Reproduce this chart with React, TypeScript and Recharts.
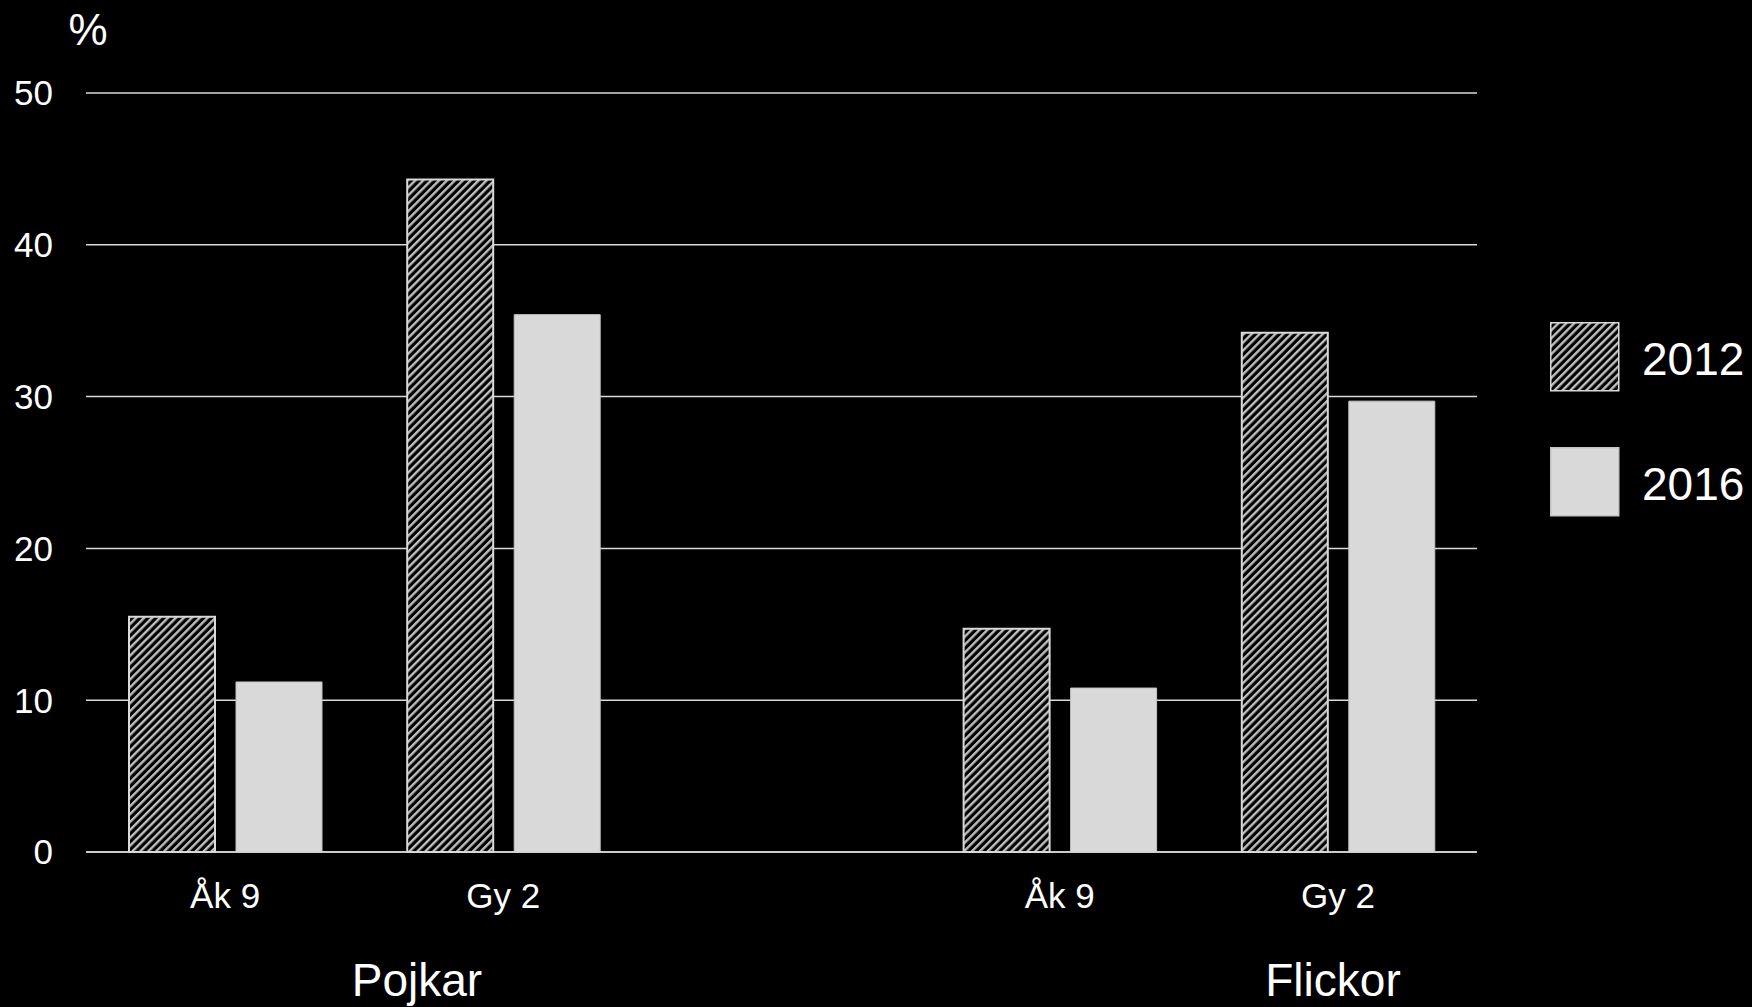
import React from 'react';
import { BarChart, Bar, XAxis, YAxis, CartesianGrid, Legend } from 'recharts';

const categories = ['Åk 9', 'Gy 2', '', 'Åk 9', 'Gy 2'];
const values2012 = [15.5, 44.3, null, 14.7, 34.2];
const values2016 = [11.2, 35.4, null, 10.8, 29.7];
const yTicks = [0, 10, 20, 30, 40, 50];
const seriesNames = ['2012', '2016'];
const groupLabels = [
  { text: 'Pojkar', x: 417 },
  { text: 'Flickor', x: 1333 },
];

const data = categories.map((c, i) => ({
  cat: c,
  v2012: values2012[i],
  v2016: values2016[i],
}));

const FONT = '"Liberation Sans", Arial, sans-serif';
const LIGHT = '#d9d9d9';

const HatchDef = ({ id }: { id: string }) => (
  <defs>
    <pattern id={id} patternUnits="userSpaceOnUse" width="5.6" height="5.6" patternTransform="rotate(45)">
      <rect x="0" y="0" width="5.6" height="5.6" fill="#000" />
      <rect x="0" y="0" width="2.4" height="5.6" fill="#c0c0c0" />
    </pattern>
  </defs>
);

const LegendContent = (props: any) => {
  const payload = props.payload || [];
  return (
    <svg width={220} height={200} style={{ display: 'block', overflow: 'visible' }}>
      <HatchDef id="hatchLegend" />
      {payload.map((p: any, i: number) => (
        <g key={i}>
          <rect
            x={0.75}
            y={0.75 + i * 125}
            width={68}
            height={68}
            fill={i === 0 ? 'url(#hatchLegend)' : LIGHT}
            stroke={i === 0 ? LIGHT : '#c4c4c4'}
            strokeWidth={1.5}
          />
          <text x={92} y={53 + i * 125} fill="#fff" fontSize={46} fontFamily={FONT}>
            {p.value}
          </text>
        </g>
      ))}
    </svg>
  );
};

export default function App() {
  return (
    <div style={{ position: 'fixed', left: 0, top: 0, width: 1752, height: 1007, background: '#000', overflow: 'hidden' }}>
      <BarChart
        width={1752}
        height={1007}
        data={data}
        margin={{ top: 93, right: 275, left: 0, bottom: 0 }}
        barSize={86}
        barGap={21}
        style={{ fontFamily: FONT }}
      >
        <HatchDef id="hatchBar" />
        <CartesianGrid vertical={false} stroke={LIGHT} strokeWidth={1.5} />
        <XAxis
          dataKey="cat"
          height={155}
          axisLine={{ stroke: LIGHT, strokeWidth: 1.5 }}
          tickLine={false}
          tickSize={0}
          tickMargin={31}
          interval={0}
          tick={{ fill: '#fff', fontSize: 35, fontFamily: FONT }}
        />
        <YAxis
          width={86}
          domain={[0, 50]}
          ticks={yTicks}
          axisLine={false}
          tickLine={false}
          tickSize={0}
          tickMargin={33}
          tick={{ fill: '#fff', fontSize: 35, fontFamily: FONT }}
        />
        <Legend
          layout="horizontal"
          verticalAlign="middle"
          align="center"
          content={<LegendContent />}
          wrapperStyle={{ left: 1550, top: 322, width: 220, height: 200 }}
        />
        <Bar dataKey="v2012" name={seriesNames[0]} fill="url(#hatchBar)" stroke={LIGHT} strokeWidth={2} isAnimationActive={false} />
        <Bar dataKey="v2016" name={seriesNames[1]} fill={LIGHT} stroke="#c4c4c4" strokeWidth={1} isAnimationActive={false} />
      </BarChart>
      <svg width={1752} height={1007} style={{ position: 'absolute', left: 0, top: 0, pointerEvents: 'none' }}>
        <text x={88} y={45} textAnchor="middle" fill="#fff" fontSize={44} fontFamily={FONT}>%</text>
        {groupLabels.map((g, i) => (
          <text key={i} x={g.x} y={996} textAnchor="middle" fill="#fff" fontSize={46} fontFamily={FONT}>
            {g.text}
          </text>
        ))}
      </svg>
    </div>
  );
}
